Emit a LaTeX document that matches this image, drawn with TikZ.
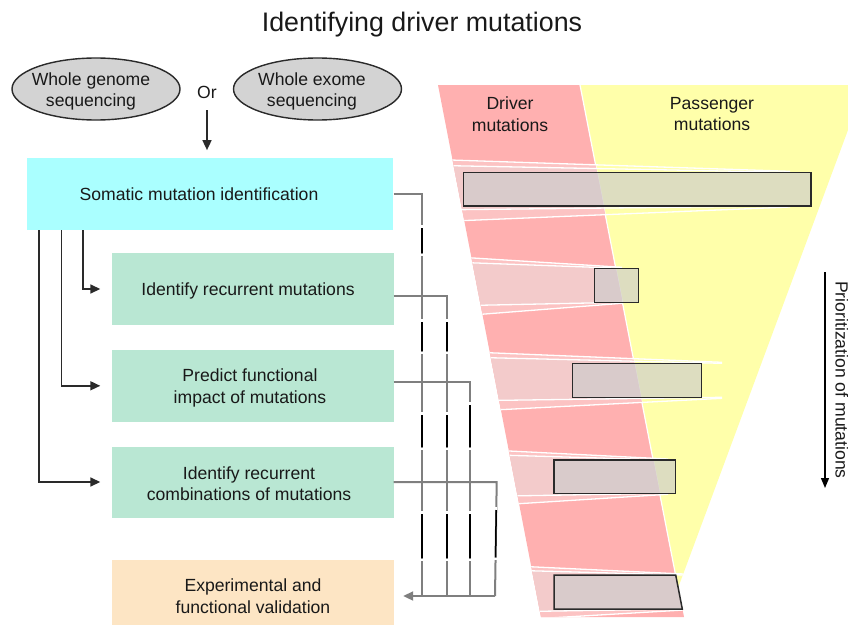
\documentclass[tikz,border=0pt]{standalone}
\usepackage{fontspec}
\setmainfont{Liberation Sans}
\usetikzlibrary{arrows.meta,shapes.geometric,calc}
\definecolor{cCyan}{HTML}{AAFFFF}
\definecolor{cGreen}{HTML}{B9E7D3}
\definecolor{cOrange}{HTML}{FDE5C4}
\definecolor{cRed}{HTML}{FFB0B0}
\definecolor{cYellow}{HTML}{FFFFAA}
\definecolor{cBand}{HTML}{F3CBCB}
\definecolor{cPale}{HTML}{FCC3C3}
\definecolor{cEll}{HTML}{D3D3D3}
\definecolor{cLink}{HTML}{7F7F7F}
\definecolor{cInk}{HTML}{2A2A2A}

% one fan of rays around a selected block of mutations
\newcommand{\fanrays}[3]{%
  \begin{scope}
    \clip (438,85) -- (580,85) -- (684,617) -- (541,617) -- cycle;
    \fill[cPale] (430,#1-13) -- (#3,#1-1) -- (#3,#2+1) -- (430,#2+16) -- cycle;
    \fill[cBand] (430,#1-7) -- (#3,#1) -- (#3,#2) -- (430,#2+4) -- cycle;
  \end{scope}
  \begin{scope}
    \clip (438,85) -- (848,85) -- (848,130) -- (678,588) -- (684,617) -- (541,617) -- cycle;
    \draw[ray] (430,#1-13) -- (#3,#1-1);
    \draw[ray] (430,#1-7) -- (#3,#1);
    \draw[ray] (430,#2+4) -- (#3,#2);
    \draw[ray] (430,#2+16) -- (#3,#2+1);
  \end{scope}}

% black marks with small white breaks on a grey return line
\newcommand{\linkmark}[3]{%
  \draw[white,line width=2.4pt] (#1,#2-3) -- (#1,#2-0.5);
  \draw[black,line width=1.8pt] (#1,#2) -- (#1,#3);
  \draw[white,line width=2.4pt] (#1,#3+0.5) -- (#1,#3+3);}

\begin{document}
\begin{tikzpicture}[x=1pt,y=-1pt,
  font=\fontsize{17.6}{21.5}\selectfont,
  every node/.style={text=black!90},
  flowbox/.style={rectangle,draw=none,minimum width=282pt,align=center,inner sep=0pt},
  seqell/.style={ellipse,draw=cInk,line width=1.4pt,fill=cEll,minimum width=168pt,minimum height=62pt,inner sep=0pt},
  blk/.style={draw=cInk,line width=1.6pt,-{Triangle[length=10pt,width=9pt]}},
  glink/.style={draw=cLink,line width=2pt},
  ray/.style={white,line width=1.3pt},
  mutbox/.style={draw=cInk,line width=1.5pt,fill=black!20,fill opacity=0.65}
]
\useasboundingbox (0,0) rectangle (848,626);

% title
\node[font=\fontsize{26.8}{30}\selectfont] (title) at (422,25) {Identifying driver mutations};

% sequencing inputs
\node[seqell] (wgs) at (96,89) {};
\node[align=center] (wgstxt) at (91,91.5) {Whole genome\\sequencing};
\node[seqell] (wes) at (317.5,89) {};
\node[align=center] (westxt) at (312,91.5) {Whole exome\\sequencing};
\node (or) at (207,92) {Or};

% pipeline boxes
\node[flowbox,fill=cCyan,minimum width=366.6pt,minimum height=71.7pt] (som) at (210,194.2) {};
\node (somtxt) at (199,194) {Somatic mutation identification};
\node[flowbox,fill=cGreen,minimum height=72pt] (rec1) at (252.5,289) {};
\node (rec1txt) at (248,290.5) {Identify recurrent mutations};
\node[flowbox,fill=cGreen,minimum height=71.7pt] (rec2) at (252.5,385.8) {};
\node[align=center] (rec2txt) at (250,388) {Predict functional\\impact of mutations};
\node[flowbox,fill=cGreen,minimum height=71pt] (rec3) at (252.5,482) {};
\node[align=center] (rec3txt) at (249,483.5) {Identify recurrent\\combinations of mutations};
\node[flowbox,fill=cOrange,minimum height=65pt] (val) at (252.5,592.5) {};
\node[align=center] (valtxt) at (253,596) {Experimental and\\functional validation};

% input arrow
\coordinate (orfoot) at (207,110);
\draw[blk] (orfoot) -- ($(som.north -| orfoot)+(0,-8)$);

% branches from somatic identification
\draw[blk] ($(som.south west)+(12.3,0)$) |- ([xshift=-11pt]rec3.west);
\draw[blk] ($(som.south west)+(35,0)$) |- ([xshift=-11pt]rec2.west);
\draw[blk] ($(som.south west)+(56.6,0)$) |- ([xshift=-11pt]rec1.west);

% return lines to validation
\coordinate (j1) at (421.7,596);
\coordinate (j2) at (446.7,596);
\coordinate (j3) at (470,596);
\coordinate (j4) at (495,596);
\draw[glink] (som.east) -| (j1);
\draw[glink] ($(rec1.east)+(0,7)$) -| (j2);
\draw[glink] ($(rec2.east)+(0,-4)$) -| (j3);
\draw[glink] (rec3.east) -- (496.7,482) -- (j4);
\draw[glink] (j4) -- (j1);
\draw[glink,-{Triangle[length=10pt,width=9pt]}] (j1) -- ($(val.east)+(9.5,3.5)$);
\linkmark{421.7}{228}{253}
\linkmark{421.7}{322}{351}
\linkmark{421.7}{415}{447}
\linkmark{421.7}{514}{558}
\linkmark{446.7}{322}{351}
\linkmark{446.7}{415}{447}
\linkmark{446.7}{514}{558}
\linkmark{470}{405}{447}
\linkmark{470}{514}{558}
\draw[white,line width=2.4pt] (496.2,507) -- (496.2,509.5);
\draw[black,line width=1.5pt] (496.2,510) -- (495.6,557);
\draw[white,line width=2.4pt] (495.6,557.5) -- (495.6,560);

% driver / passenger funnel
\fill[cRed] (438,85) -- (580,85) -- (684,617) -- (541,617) -- cycle;
\fill[cYellow] (580,85) -- (848,85) -- (848,130) -- (678,588) -- cycle;
\draw[white,line width=1.2pt] (580,85) -- (678.5,590);
\node[align=center] (drv) at (510,114) {Driver\\mutations};
\node[align=center] (psg) at (712,114) {Passenger\\mutations};

\fanrays{172.3}{206}{790}
\fanrays{268.3}{302.3}{622}
\fanrays{363.3}{397.3}{722}
\fanrays{460}{493.3}{668}
\fanrays{575}{609}{684}

\draw[mutbox] (463.3,172.3) rectangle (811,206);
\draw[mutbox] (594.3,268.3) rectangle (638.7,302.3);
\draw[mutbox] (572.3,363.3) rectangle (701.7,397.3);
\draw[mutbox] (554,460) rectangle (675.7,493.3);
\draw[mutbox] (554,575) -- (675.7,575) -- (682.3,609) -- (554,609) -- cycle;

% prioritization axis
\coordinate (pa) at (825,272);
\coordinate (pb) at (825,488);
\draw[black,line width=1.3pt,-{Triangle[length=10pt,width=8pt]}] (pa) -- (pb);
\node[rotate=-90] (prio) at (842,380) {Prioritization of mutations};
\end{tikzpicture}
\end{document}
